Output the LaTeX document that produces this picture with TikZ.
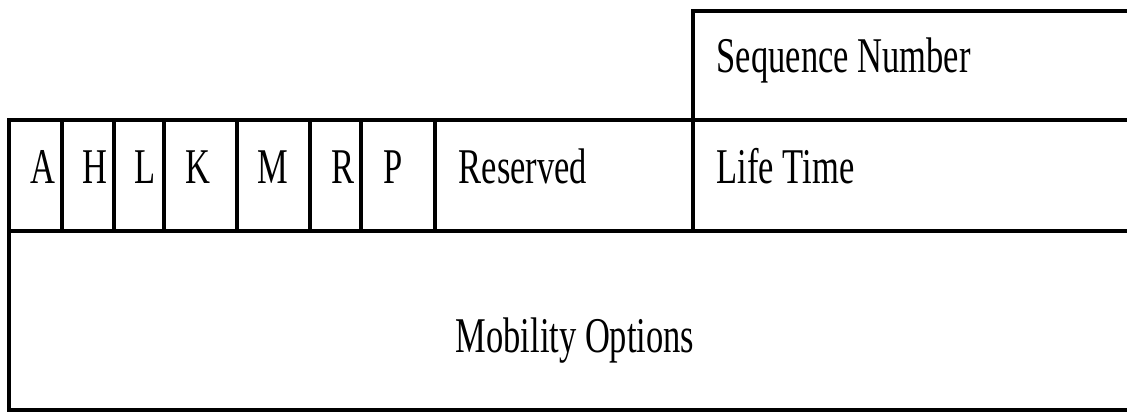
\documentclass[tikz,border=0pt]{standalone}
\usepackage{fontspec}
\setmainfont{Liberation Serif}[FakeStretch=0.69]
\usepackage{tikz}

\begin{document}
\begin{tikzpicture}[x=0.5pt,y=-0.5pt,line width=1.8pt,
	lbl/.style={anchor=base,inner sep=0pt,font=\fontsize{25}{30}\selectfont},
	lblw/.style={anchor=base west,inner sep=0pt,font=\fontsize{25}{30}\selectfont}]
\useasboundingbox (0,0) rectangle (1127,413);
% frame
\draw (1127,11) -- (693,11) -- (693,231);
\draw (1127,120) -- (9,120) -- (9,410) -- (1127,410);
\draw (9,231) -- (1127,231);
% flag fields
\draw (62,120) -- (62,231);
\draw (114,120) -- (114,231);
\draw (164,120) -- (164,231);
\draw (237,120) -- (237,231);
\draw (310,120) -- (310,231);
\draw (361,120) -- (361,231);
\draw (435,120) -- (435,231);
\node [lbl] (a) at (43,183) {A};
\node [lbl] (h) at (95,183) {H};
\node [lbl] (l) at (145,183) {L};
\node [lbl] (k) at (198,183) {K};
\node [lbl] (m) at (273,183) {M};
\node [lbl] (r) at (343,183) {R};
\node [lbl] (p) at (393,183) {P};
\node [lblw] (res) at (457,183) {Reserved};
\node [lblw] (life) at (715,183) {Life Time};
\node [lblw] (seq) at (715,72) {Sequence Number};
\node [lbl] (opt) at (575,352) {Mobility Options};
\end{tikzpicture}
\end{document}
